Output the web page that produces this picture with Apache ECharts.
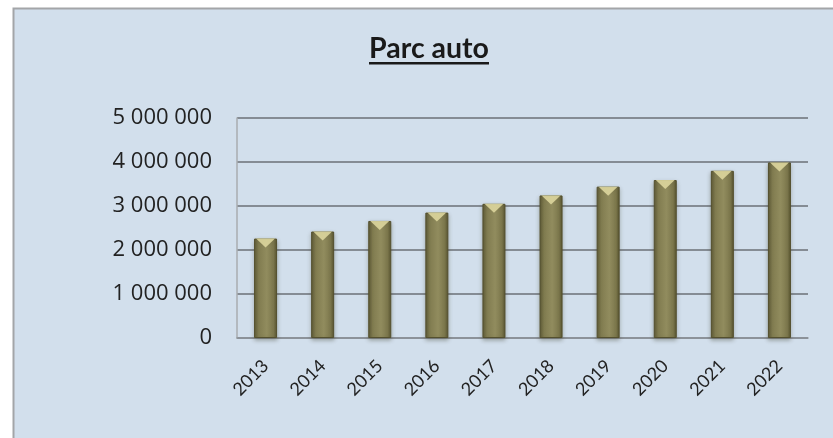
<!DOCTYPE html>
<html>
<head>
<meta charset="utf-8">
<script src="https://cdn.jsdelivr.net/npm/echarts@6/dist/echarts.min.js"></script>
<style>
  html, body { margin: 0; padding: 0; background: #fff; }
  #chart { width: 833px; height: 438px; }
</style>
</head>
<body>
<div id="chart"></div>
<script>
// données
const years = ['2013', '2014', '2015', '2016', '2017', '2018', '2019', '2020', '2021', '2022']
const parcAuto = [2260000, 2420000, 2660000, 2850000, 3050000, 3240000, 3440000, 3590000, 3800000, 3990000]
const yTicks = [0, 1000000, 2000000, 3000000, 4000000, 5000000]

const chart = echarts.init(document.getElementById('chart'))

function fmt(v) {
  // 5000000 -> "5 000 000"
  return String(v).replace(/\B(?=(\d{3})+(?!\d))/g, ' ')
}

const barColor = new echarts.graphic.LinearGradient(0, 0, 1, 0, [
  { offset: 0, color: '#5e5a36' },
  { offset: 0.2, color: '#817c50' },
  { offset: 0.55, color: '#918c5e' },
  { offset: 0.85, color: '#7c774c' },
  { offset: 1, color: '#57532f' }
])

chart.setOption({
  backgroundColor: '#ffffff',
  animation: false,
  graphic: [
    {
      type: 'rect',
      z: -10,
      shape: { x: 13.5, y: 8.5, width: 860, height: 460 },
      style: { fill: '#d2dfec', stroke: '#a3a5a8', lineWidth: 2 }
    },
    {
      // soulignement du titre
      type: 'rect',
      shape: { x: 369, y: 62, width: 120, height: 2.5 },
      style: { fill: '#1a1a1a' }
    }
  ],
  title: {
    text: 'Parc auto',
    left: 364,
    top: 29,
    textStyle: {
      fontFamily: 'Lato',
      fontWeight: 'bold',
      fontSize: 28.5,
      color: '#1a1a1a'
    }
  },
  grid: {
    left: 237,
    right: 25,
    top: 118,
    bottom: 100
  },
  xAxis: {
    type: 'category',
    data: years,
    axisLine: { lineStyle: { color: '#8e949a', width: 1.5 } },
    axisTick: { show: false },
    axisLabel: {
      rotate: 45,
      margin: 25,
      fontFamily: 'Lato',
      fontSize: 18,
      color: '#222'
    }
  },
  yAxis: {
    type: 'value',
    min: yTicks[0],
    max: yTicks[yTicks.length - 1],
    interval: 1000000,
    axisLine: { show: true, lineStyle: { color: '#a8acb0', width: 1.5 } },
    axisTick: { show: false },
    splitLine: { lineStyle: { color: '#858c94', width: 2 } },
    axisLabel: {
      margin: 25,
      fontFamily: 'Open Sans',
      fontSize: 22,
      color: '#222',
      formatter: fmt
    }
  },
  series: [
    {
      name: 'Parc auto',
      type: 'bar',
      data: parcAuto,
      barWidth: 23,
      itemStyle: {
        color: barColor,
        borderColor: '#54502e',
        borderWidth: 1,
        shadowColor: 'rgba(60,60,40,0.35)',
        shadowBlur: 4,
        shadowOffsetY: 2
      }
    },
    {
      // petit triangle clair en haut de chaque barre
      name: 'reflet',
      type: 'pictorialBar',
      data: parcAuto,
      symbol: 'path://M0,0 L20,0 L10,8 Z',
      symbolSize: [19, 9],
      symbolPosition: 'end',
      symbolOffset: [0, 0],
      z: 5,
      itemStyle: { color: '#ddd69d', opacity: 0.9 },
      silent: true
    }
  ]
})
</script>
</body>
</html>
